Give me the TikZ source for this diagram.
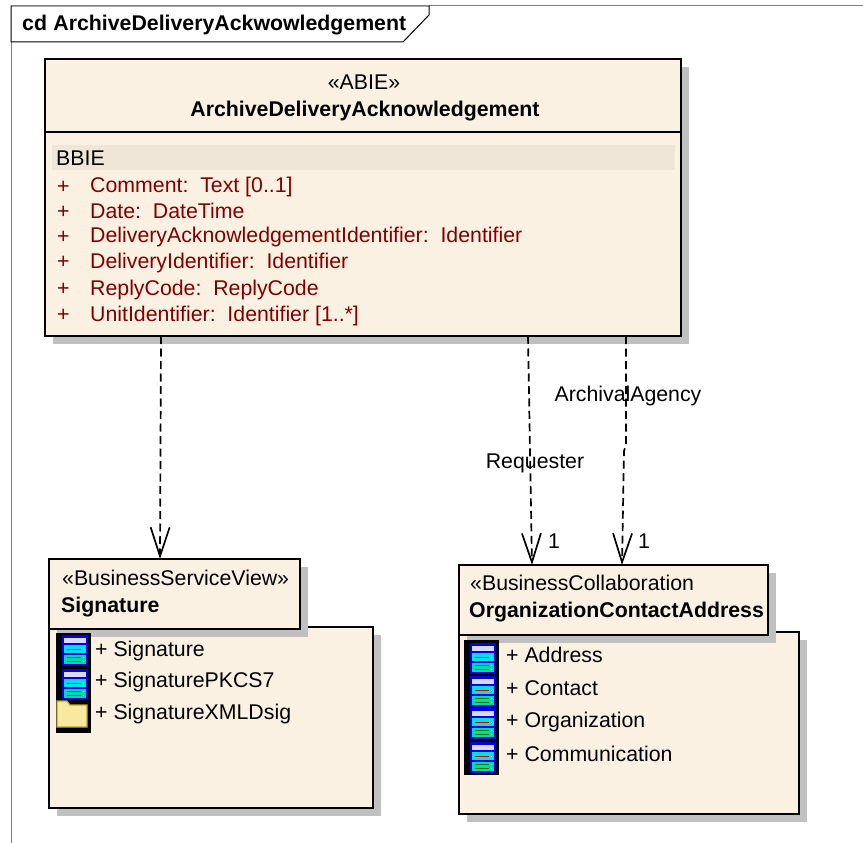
\documentclass[tikz,border=0pt]{standalone}
\usepackage{fontspec}
\setmainfont{Liberation Sans}
\usetikzlibrary{arrows.meta,shadows}
\definecolor{boxfill}{HTML}{FBF1E3}
\definecolor{bandfill}{HTML}{EFE6D8}
\definecolor{attrred}{HTML}{800000}
\definecolor{shadowgray}{HTML}{C0C0C0}
\definecolor{iconblue}{HTML}{0000E0}
\definecolor{iconcyan}{HTML}{00E0E8}
\definecolor{iconsea}{HTML}{00D8B0}
\definecolor{iconfolder}{HTML}{F8E8A0}
\tikzset{
  umlbox/.style={draw=black, line width=1.8pt, fill=boxfill, anchor=north west, inner sep=0pt, outer sep=0pt,
    drop shadow={shadow xshift=8pt, shadow yshift=-8pt, fill=shadowgray, opacity=1}},
  txt/.style={anchor=base west, inner sep=0pt, font=\fontsize{21.3}{25}\selectfont},
  txtb/.style={txt, font=\fontsize{21.3}{25}\selectfont\bfseries},
  attr/.style={txt, text=attrred},
  link/.style={dash pattern=on 8pt off 4.5pt, line width=1.7pt, -{Straight Barb[length=29pt,width=19pt,line width=1.7pt]}},
  tableicon/.pic={
    \fill[iconblue] (-1,0) rectangle (25,31);
    \fill[white!85!blue] (1,3) rectangle (23,7.5);
    \fill[iconcyan] (1,10) rectangle (23,18);
    \fill[red!85!black] (4,13.5) rectangle (18,15);
    \fill[iconsea] (1,20) rectangle (23,29);
    \fill[green!50!black] (4,22) rectangle (18,23.4);
    \fill[green!50!black] (4,25.5) rectangle (18,26.9);
    \fill[white] (20,13.5) rectangle (21.5,15);
    \fill[white] (20,22) rectangle (21.5,23.4);
    \fill[white] (20,25.5) rectangle (21.5,26.9);
  },
  foldericon/.pic={
    \fill[iconfolder, draw=olive!70, line width=1.2pt] (0,4) -- (0,0) -- (10,0) -- (13,4) -- (30,4) -- (30,26) -- (0,26) -- cycle;
  },
}
\begin{document}
\begin{tikzpicture}[x=1pt,y=-1pt]
\useasboundingbox (0,0) rectangle (863,843);
% frame and tab
\draw[gray, line width=1pt] (11,843) -- (11,6) -- (863,6);
\draw[black, line width=1pt, fill=white] (11,42) -- (403,42) -- (429,15) -- (429,6) -- (11,6) -- cycle;
\draw[gray, line width=1pt] (11,6) -- (429,6);
\node[txtb] (title) at (22,31) {cd\hspace{.3em}ArchiveDeliveryAckwowledgement};
% element box
\node[umlbox, minimum width=636pt, minimum height=277pt] (abie) at (45,59) {};
\draw[black, line width=1.8pt] (45,132) -- (681,132);
\fill[bandfill] (52,145) rectangle (675,170);
\node[txt, anchor=base] (stereo) at (364,90) {«ABIE»};
\node[txtb, anchor=base] (abiename) at (365,117) {ArchiveDeliveryAcknowledgement};
\node[txt] (bbie) at (56,165) {BBIE};
\node[attr] (plus1) at (57,193) {+};
\node[attr] (attr1) at (90,192) {Comment:\ \ Text [0..1]};
\node[attr] (plus2) at (57,218) {+};
\node[attr] (attr2) at (90,218) {Date:\ \ DateTime};
\node[attr] (plus3) at (57,243) {+};
\node[attr] (attr3) at (90,242) {DeliveryAcknowledgementIdentifier:\ \ Identifier};
\node[attr] (plus4) at (57,268) {+};
\node[attr] (attr4) at (90,268) {DeliveryIdentifier:\ \ Identifier};
\node[attr] (plus5) at (57,295) {+};
\node[attr] (attr5) at (90,295) {ReplyCode:\ \ ReplyCode};
\node[attr] (plus6) at (57,321) {+};
\node[attr] (attr6) at (90,321) {UnitIdentifier:\ \ Identifier [1..*]};
% signature package
\node[umlbox, minimum width=324pt, minimum height=181pt] (sigbody) at (49,627) {};
\node[umlbox, minimum width=251pt, minimum height=70pt] (sighead) at (49,559) {};
\node[txt] (sigstereo) at (62,585) {«BusinessServiceView»};
\node[txtb] (signame) at (61,612) {Signature};
\fill[black] (56,633) rectangle (91,733);
\pic at (62.5,635) {tableicon};
\pic at (62.5,669) {tableicon};
\pic at (57,701) {foldericon};
\node[txt] (sig1) at (95,656) {+ Signature};
\node[txt] (sig2) at (95,687) {+ SignaturePKCS7};
\node[txt] (sig3) at (95,719) {+ SignatureXMLDsig};
% organization package
\node[umlbox, minimum width=340pt, minimum height=182pt] (orgbody) at (459,632) {};
\node[umlbox, minimum width=309pt, minimum height=70pt] (orghead) at (459,565) {};
\node[txt] (orgstereo) at (470,590) {«BusinessCollaboration};
\node[txtb] (orgname) at (469,617) {OrganizationContactAddress};
\fill[black] (464,640) rectangle (499,775);
\pic at (470.5,643) {tableicon};
\pic at (470.5,676) {tableicon};
\pic at (470.5,708) {tableicon};
\pic at (470.5,742) {tableicon};
\node[txt] (org1) at (506,662) {+ Address};
\node[txt] (org2) at (506,695) {+ Contact};
\node[txt] (org3) at (506,727) {+ Organization};
\node[txt] (org4) at (506,761) {+ Communication};
% connectors
\draw[link] ([xshift=-202pt]abie.south) -- ([xshift=-14.5pt]sighead.north);
\draw[link] ([xshift=165pt]abie.south) -- ([xshift=-81.5pt]orghead.north);
\coordinate (bend1) at (626,445);
\coordinate (bend2) at (624,451);
\draw[link] ([xshift=263pt]abie.south) -- (bend1) -- (bend2) -- ([xshift=8.5pt]orghead.north);
\node[txt, anchor=base] (requester) at (535,468) {Requester};
\node[txt, anchor=base] (archival) at (628,401) {ArchivalAgency};
\node[txt] (mult1) at (548,548) {1};
\node[txt] (mult2) at (638,548) {1};
\end{tikzpicture}
\end{document}
